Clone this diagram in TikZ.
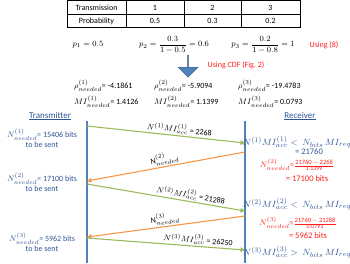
\documentclass[tikz,border=0pt]{standalone}
\usepackage{amsmath}
\usepackage{fontspec}
\setmainfont{Carlito}
\usetikzlibrary{arrows.meta, positioning, shapes.arrows}
\definecolor{txtblue}{RGB}{46,84,150}
\definecolor{lineblue}{RGB}{79,129,189}
\definecolor{arrgreen}{RGB}{155,187,89}
\definecolor{arrorange}{RGB}{247,150,70}
\definecolor{notered}{RGB}{255,30,30}
\newcommand{\smallfrac}[2]{\frac{\text{\fontsize{6.5}{7}\selectfont #1}}{\text{\fontsize{6}{7}\selectfont #2}}}
\tikzset{
  cell/.style={draw, line width=0.6pt, minimum height=13.5pt, inner sep=0pt, font=\fontsize{8}{9}\selectfont},
  eqn/.style={inner sep=1pt, font=\fontsize{8.5}{10}\selectfont},
  val/.style={anchor=west, inner sep=1pt, font=\fontsize{8}{9.5}\selectfont},
  side/.style={text=txtblue, align=center, inner sep=1pt, font=\fontsize{8}{9.5}\selectfont},
  recv/.style={text=txtblue, inner sep=1pt, font=\fontsize{9.5}{11}\selectfont},
  calc/.style={text=notered, align=center, inner sep=1pt, font=\fontsize{8}{9.5}\selectfont},
  note/.style={text=notered, inner sep=1pt, font=\fontsize{8}{9.5}\selectfont},
  life/.style={lineblue, line width=1.2pt},
  msg/.style={-{Triangle[length=4.5pt,width=4.5pt]}, line width=1.1pt, arrgreen},
  ack/.style={-{Triangle[length=4.5pt,width=4.5pt]}, line width=1.1pt, arrorange},
  lbl/.style={sloped, above, inner sep=1.5pt, text=black, font=\fontsize{8}{9.5}\selectfont}
}

\begin{document}
\begin{tikzpicture}[x=1pt, y=-1pt]
\useasboundingbox (0,0) rectangle (350,263);

% Table
\node[cell, minimum width=59pt] (th) at (96.5,7.5) {Transmission};
\node[cell, minimum width=58pt] (t1) at (155,7.5) {1};
\node[cell, minimum width=57pt] (t2) at (212.5,7.5) {2};
\node[cell, minimum width=59pt] (t3) at (270.5,7.5) {3};
\node[cell, minimum width=59pt] (ph) at (96.5,21) {Probability};
\node[cell, minimum width=58pt] (p1) at (155,21) {0.5};
\node[cell, minimum width=57pt] (p2) at (212.5,21) {0.3};
\node[cell, minimum width=59pt] (p3) at (270.5,21) {0.2};

% Conditional probabilities
\node[eqn] (pp1) at (88,45) {$p_1 = 0.5$};
\node[eqn] (pp2) at (174,45) {$p_2 = \dfrac{0.3}{1-0.5} = 0.6$};
\node[eqn] (pp3) at (263,45) {$p_3 = \dfrac{0.2}{1-0.8} = 1$};
\node[note] (use8) at (324,45) {Using (8)};

\node[single arrow, draw=lineblue!70!black, fill=lineblue, rotate=-90,
      minimum width=20pt, minimum height=22pt, single arrow head extend=4.5pt,
      inner sep=0pt] (cdfarrow) at (188,66) {};
\node[note] (usecdf) at (236,65) {Using CDF (Fig.~2)};

% Thresholds
\node[val] (rho1) at (73,86) {$\rho^{(1)}_{needed}$= -4.1861};
\node[val] (rho2) at (153,86) {$\rho^{(2)}_{needed}$= -5.9094};
\node[val] (rho3) at (237,86) {$\rho^{(3)}_{needed}$= -19.4783};
\node[val] (mi1) at (73,102) {$MI^{(1)}_{needed}$= 1.4126};
\node[val] (mi2) at (153,102) {$MI^{(2)}_{needed}$= 1.1399};
\node[val] (mi3) at (237,102) {$MI^{(3)}_{needed}$= 0.0793};

% Lifelines
\node[recv, font=\fontsize{9}{11}\selectfont] (tx) at (50,116) {\underline{Transmitter}};
\node[recv, font=\fontsize{9}{11}\selectfont] (rx) at (300,116) {\underline{Receiver}};
\coordinate (txtop) at (87,121);
\coordinate (txbot) at (87,263);
\coordinate (rxtop) at (245,121);
\coordinate (rxbot) at (245,263);
\draw[life] (txtop) -- (txbot);
\draw[life] (rxtop) -- (rxbot);

% Message points
\coordinate (g1s) at (87,126);
\coordinate (g1e) at (245,143);
\coordinate (o1s) at (245,152);
\coordinate (o1e) at (87,181);
\coordinate (g2s) at (87,184);
\coordinate (g2e) at (245,211);
\coordinate (o2s) at (245,216);
\coordinate (o2e) at (87,237);
\coordinate (g3s) at (87,238);
\coordinate (g3e) at (245,250);

\draw[msg] (g1s) -- node[lbl, pos=0.58] {$N^{(1)}MI^{(1)}_{acc}$ = 2268} (g1e);
\draw[ack] (o1s) -- node[lbl, pos=0.5] {$\mathrm{N}^{(2)}_{needed}$} (o1e);
\draw[msg] (g2s) -- node[lbl, pos=0.65] {$N^{(2)}MI^{(2)}_{acc}$ = 21288} (g2e);
\draw[ack] (o2s) -- node[lbl, pos=0.5] {$\mathrm{N}^{(3)}_{needed}$} (o2e);
\draw[msg] (g3s) -- node[lbl, pos=0.7] {$N^{(3)}MI^{(3)}_{acc}$ = 26250} (g3e);

% Transmitter side
\node[side] (n1) at (42,138) {$N^{(1)}_{needed}$= 15406 bits\\to be sent};
\node[side] (n2) at (42,182) {$N^{(2)}_{needed}$= 17100 bits\\to be sent};
\node[side] (n3) at (42,242) {$N^{(3)}_{needed}$= 5962 bits\\to be sent};

% Receiver side
\node[recv] (r1) at (297,142) {$N^{(1)}MI^{(1)}_{acc} <\ N_{bits}\,MI_{req}$};
\node[recv, font=\fontsize{8.5}{10}\selectfont] (r1v) at (309,152) {= 21760};
\node[calc] (c2) at (297,165) {$N^{(2)}_{needed}$=$\smallfrac{21760\,$-$\,2268}{1.1399}$};
\node[calc, font=\fontsize{8.5}{10}\selectfont] (c2v) at (307,179) {= 17100 bits};
\node[recv] (r2) at (297,204) {$N^{(2)}MI^{(2)}_{acc} <\ N_{bits}\,MI_{req}$};
\node[calc] (c3) at (298,223) {$N^{(3)}_{needed}$=$\smallfrac{21760\,$-$\,21288}{0.0793}$};
\node[calc, font=\fontsize{8.5}{10}\selectfont] (c3v) at (308,236) {= 5962 bits};
\node[recv] (r3) at (297,252) {$N^{(3)}MI^{(3)}_{acc} >\ N_{bits}\,MI_{req}$};

\end{tikzpicture}
\end{document}
